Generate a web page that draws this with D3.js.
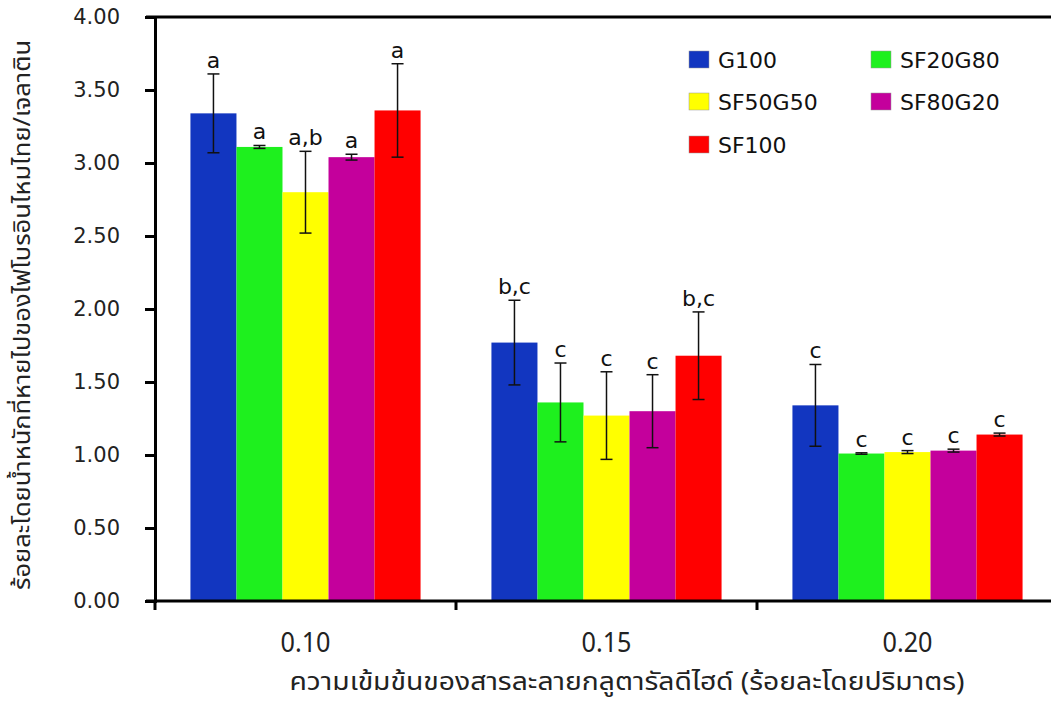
<!DOCTYPE html>
<html>
<head>
<meta charset="utf-8">
<script src="https://cdn.jsdelivr.net/npm/d3@7"></script>
<style>
  body { margin: 0; background: #fff; }
  text { font-family: "DejaVu Sans", Verdana, sans-serif; }
  .thai { font-family: "Noto Sans Thai", "Noto Sans", "DejaVu Sans", sans-serif; }
</style>
</head>
<body>
<div id="chart"></div>
<script>
// data
var concentrations = ["0.10", "0.15", "0.20"];
var seriesNames = ["G100", "SF20G80", "SF50G50", "SF80G20", "SF100"];
var seriesColors = ["#1236c0", "#1ef01e", "#ffff00", "#c4009c", "#ff0000"];
var meanValues = [
   [3.34, 3.11, 2.80, 3.04, 3.36],
   [1.77, 1.36, 1.27, 1.30, 1.68],
   [1.34, 1.01, 1.02, 1.03, 1.14]
];
var errValues = [
   [0.27, 0.01, 0.28, 0.02, 0.32],
   [0.29, 0.27, 0.30, 0.25, 0.30],
   [0.28, 0.005, 0.01, 0.01, 0.01]
];
var letters = [
   ["a", "a", "a,b", "a", "a"],
   ["b,c", "c", "c", "c", "b,c"],
   ["c", "c", "c", "c", "c"]
];
var yTicks = [0, 0.5, 1, 1.5, 2, 2.5, 3, 3.5, 4];
var yTitle = "ร้อยละโดยน้ำหนักที่หายไปของไฟโบรอินไหมไทย/เจลาติน";
var xTitle = "ความเข้มข้นของสารละลายกลูตารัลดีไฮด์ (ร้อยละโดยปริมาตร)";

function drawChart() {
   var width = 1051, height = 704;
   var margin = {left: 155, top: 17, bottom: 103};
   var plotRight = 1058;

   var svg = d3.select("#chart")
      .append("svg")
      .attr("width", width)
      .attr("height", height);

   var x = d3.scaleBand()
      .domain(concentrations)
      .range([margin.left, plotRight])
      .paddingInner(0)
      .paddingOuter(0);

   var xInner = d3.scaleBand()
      .domain(seriesNames)
      .range([0, x.bandwidth()])
      .paddingOuter(0.77)
      .paddingInner(0);

   var y = d3.scaleLinear()
      .domain([0, 4])
      .range([height - margin.bottom, margin.top]);

   // flatten for drawing
   var rows = [];
   concentrations.forEach(function(c, i) {
      seriesNames.forEach(function(s, j) {
         rows.push({c: c, s: s, j: j, v: meanValues[i][j], e: errValues[i][j], l: letters[i][j]});
      });
   });

   svg.selectAll(".bar")
      .data(rows)
      .enter().append("rect")
      .attr("class", "bar")
      .attr("x", function(d) {return x(d.c) + xInner(d.s)})
      .attr("y", function(d) {return y(d.v)})
      .attr("width", xInner.bandwidth())
      .attr("height", function(d) {return y(0) - y(d.v)})
      .attr("fill", function(d) {return seriesColors[d.j]});

   // error bars
   var eb = svg.selectAll(".err")
      .data(rows)
      .enter().append("g")
      .attr("class", "err")
      .attr("stroke", "#111")
      .attr("stroke-width", 1.5);

   function cx(d) {return x(d.c) + xInner(d.s) + xInner.bandwidth() / 2}

   eb.append("line")
      .attr("x1", cx).attr("x2", cx)
      .attr("y1", function(d) {return y(d.v + d.e)})
      .attr("y2", function(d) {return y(d.v - d.e)});
   eb.append("line")
      .attr("x1", function(d) {return cx(d) - 6}).attr("x2", function(d) {return cx(d) + 6})
      .attr("y1", function(d) {return y(d.v + d.e)})
      .attr("y2", function(d) {return y(d.v + d.e)});
   eb.append("line")
      .attr("x1", function(d) {return cx(d) - 6}).attr("x2", function(d) {return cx(d) + 6})
      .attr("y1", function(d) {return y(d.v - d.e)})
      .attr("y2", function(d) {return y(d.v - d.e)});

   svg.selectAll(".letter")
      .data(rows)
      .enter().append("text")
      .attr("class", "letter")
      .attr("x", cx)
      .attr("y", function(d) {return y(d.v + d.e) - 6})
      .attr("text-anchor", "middle")
      .attr("font-size", 22)
      .attr("fill", "#111")
      .text(function(d) {return d.l});

   // top frame line
   svg.append("line")
      .attr("x1", margin.left - 9).attr("x2", width)
      .attr("y1", y(4)).attr("y2", y(4))
      .attr("stroke", "#000").attr("stroke-width", 3);

   // y axis
   var yAxis = svg.append("g")
      .attr("transform", "translate(" + margin.left + ",0)")
      .call(d3.axisLeft(y).tickValues(yTicks).tickFormat(d3.format(".2f")).tickSize(10).tickPadding(25));
   yAxis.select(".domain").attr("stroke-width", 3);
   yAxis.selectAll(".tick line").attr("stroke-width", 3);
   yAxis.selectAll(".tick text")
      .attr("font-size", 21)
      .attr("fill", "#222")
      .style("font-family", "'DejaVu Sans', Verdana, sans-serif");

   // x axis
   var xTickPos = [margin.left].concat(concentrations.map(function(c) {return x(c) + x.bandwidth()}));
   var xAxisG = svg.append("g").attr("class", "xaxis");
   xAxisG.append("line")
      .attr("x1", margin.left - 9).attr("x2", width)
      .attr("y1", y(0)).attr("y2", y(0))
      .attr("stroke", "#000").attr("stroke-width", 3);
   xAxisG.selectAll(".xtick")
      .data(xTickPos)
      .enter().append("line")
      .attr("x1", function(d) {return d}).attr("x2", function(d) {return d})
      .attr("y1", y(0)).attr("y2", y(0) + 9)
      .attr("stroke", "#000").attr("stroke-width", 3);

   xAxisG.selectAll(".xlabel")
      .data(concentrations)
      .enter().append("text")
      .attr("class", "thai")
      .attr("x", function(d) {return x(d) + x.bandwidth() / 2})
      .attr("y", 652)
      .attr("text-anchor", "middle")
      .attr("font-size", 27)
      .attr("textLength", 50)
      .attr("lengthAdjust", "spacingAndGlyphs")
      .attr("fill", "#222")
      .text(function(d) {return d});

   svg.append("text")
      .attr("class", "thai")
      .attr("x", 627)
      .attr("y", 690)
      .attr("text-anchor", "middle")
      .attr("font-size", 25)
      .attr("textLength", 675)
      .attr("lengthAdjust", "spacingAndGlyphs")
      .attr("fill", "#222")
      .text(xTitle);

   svg.append("text")
      .attr("class", "thai")
      .attr("transform", "translate(30,315) rotate(-90)")
      .attr("text-anchor", "middle")
      .attr("font-size", 23)
      .attr("textLength", 550)
      .attr("lengthAdjust", "spacingAndGlyphs")
      .attr("fill", "#222")
      .text(yTitle);

   // legend
   var legendPos = [[689, 51], [871, 51], [689, 93], [871, 93], [689, 136]];
   var legend = svg.selectAll(".legend")
      .data(seriesNames)
      .enter().append("g")
      .attr("class", "legend")
      .attr("transform", function(d, i) {return "translate(" + legendPos[i][0] + "," + legendPos[i][1] + ")"});
   legend.append("rect")
      .attr("width", 20).attr("height", 17)
      .attr("fill", function(d, i) {return seriesColors[i]})
      .attr("stroke", "#999").attr("stroke-width", 0.5);
   legend.append("text")
      .attr("x", 29).attr("y", 17)
      .attr("font-size", 22)
      .attr("fill", "#111")
      .text(function(d) {return d});
}

drawChart();
</script>
</body>
</html>
